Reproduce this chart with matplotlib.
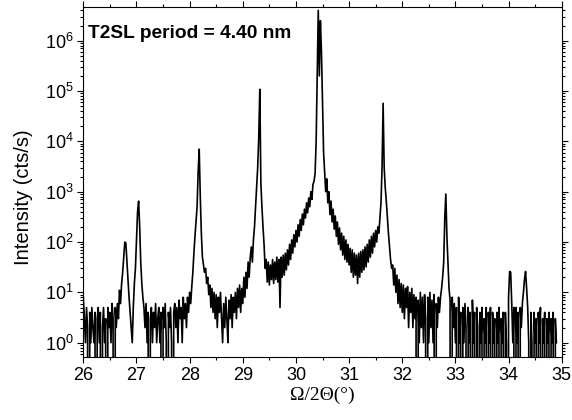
import numpy as np
import matplotlib
matplotlib.use('Agg')
import matplotlib.pyplot as plt
from matplotlib.ticker import LogLocator, MultipleLocator, NullFormatter, FixedLocator

angle_start = 26.0
angle_step = 0.02

seg_26 = [8, 3, 1, 5, 2, 0, 4, 1, 5, 2,
          1, 4, 0, 3, 5, 1, 4, 0, 2, 5,
          1, 3, 0, 5, 2, 4, 1, 6, 3, 0,
          5, 2, 6, 3, 11, 6, 15, 25, 50, 100,
          95, 40, 18, 8, 4, 2, 1, 5, 15, 30]
seg_27 = [110, 400, 650, 200, 40, 15, 8, 5, 2, 6,
          1, 4, 0, 3, 5, 1, 4, 2, 6, 1,
          3, 5, 1, 4, 0, 5, 2, 6, 1, 0,
          4, 2, 5, 1, 0, 4, 6, 2, 5, 1,
          7, 3, 5, 1, 8, 3, 6, 2, 8, 4]
seg_28 = [10, 6, 13, 25, 60, 130, 250, 500, 2500, 7000,
          800, 150, 50, 35, 25, 30, 15, 20, 9, 14,
          5, 12, 4, 10, 3, 9, 2, 8, 4, 10,
          3, 1, 6, 2, 8, 3, 1, 7, 3, 9,
          2, 8, 4, 10, 3, 12, 5, 14, 4, 12]
seg_29 = [6, 20, 8, 25, 12, 40, 20, 50, 80, 40,
          110, 200, 500, 1200, 3000, 12000, 108000, 1500, 500, 200,
          90, 30, 45, 16, 40, 14, 35, 18, 45, 15,
          40, 18, 50, 16, 45, 5, 50, 20, 55, 22,
          60, 28, 70, 35, 90, 45, 110, 60, 140, 80]
seg_30 = [170, 100, 220, 130, 280, 170, 360, 220, 450, 300,
          600, 380, 750, 500, 1000, 700, 1400, 1600, 2300, 10000,
          200000, 4000000, 200000, 2500000, 600000, 60000, 6000, 2500, 1000, 1800,
          600, 1000, 350, 650, 250, 450, 180, 330, 130, 250,
          90, 190, 70, 150, 55, 130, 45, 110, 40, 90]
seg_31 = [35, 75, 25, 70, 20, 60, 22, 55, 15, 60,
          20, 65, 25, 70, 28, 80, 32, 90, 40, 110,
          50, 130, 60, 150, 80, 170, 100, 200, 150, 300,
          600, 3000, 57000, 3000, 1200, 650, 300, 150, 80, 45,
          30, 35, 14, 30, 10, 22, 6, 18, 5, 15]
seg_32 = [4, 14, 3, 12, 5, 13, 2, 10, 4, 12,
          2, 9, 3, 8, 0, 7, 1, 10, 2, 8,
          1, 9, 3, 0, 8, 1, 10, 2, 7, 1,
          9, 0, 6, 2, 8, 4, 8, 12, 20, 40,
          300, 900, 130, 40, 12, 7, 0, 8, 2, 6]
seg_33 = [1, 5, 0, 8, 1, 4, 0, 5, 1, 6,
          2, 0, 5, 1, 4, 0, 7, 1, 4, 0,
          5, 2, 0, 4, 1, 5, 0, 3, 1, 5,
          0, 4, 1, 5, 0, 4, 1, 3, 0, 4,
          1, 5, 0, 3, 1, 4, 0, 4, 1, 0]
seg_34 = [8, 26, 25, 6, 1, 5, 0, 5, 1, 4,
          0, 5, 2, 6, 10, 18, 26, 12, 5, 1,
          0, 4, 1, 0, 4, 1, 3, 0, 4, 1,
          5, 0, 3, 1, 4, 0, 3, 1, 4, 0,
          3, 1, 4, 0, 3, 1]

x_ticks = [26, 27, 28, 29, 30, 31, 32, 33, 34, 35]
y_ticks = [1e0, 1e1, 1e2, 1e3, 1e4, 1e5, 1e6]
annotation = "T2SL period = 4.40 nm"

intensity = np.array(seg_26 + seg_27 + seg_28 + seg_29 + seg_30 +
                     seg_31 + seg_32 + seg_33 + seg_34, dtype=float)
two_theta = angle_start + angle_step * np.arange(intensity.size)

# ---- figure ----
plt.rcParams['font.family'] = ['Liberation Sans', 'DejaVu Sans']
plt.rcParams['mathtext.default'] = 'regular'

fig = plt.figure(figsize=(5.72, 4.20), dpi=100)
ax = fig.add_axes([0.1457, 0.150, 0.8363, 0.8326])

ax.plot(two_theta, intensity, color='black', lw=1.2)
ax.set_yscale('log', nonpositive='clip')
ax.set_xlim(26, 35)
ax.set_ylim(0.52, 4.6e6)

ax.set_xticks(x_ticks)
ax.set_xticklabels([str(t) for t in x_ticks])
ax.xaxis.set_minor_locator(MultipleLocator(0.5))
ax.yaxis.set_major_locator(FixedLocator(y_ticks))
ax.set_yticklabels([r'$10^{%d}$' % int(round(np.log10(v))) for v in y_ticks])
ax.yaxis.set_minor_locator(LogLocator(base=10, subs=np.arange(2, 10), numticks=50))
ax.yaxis.set_minor_formatter(NullFormatter())

ax.tick_params(which='both', direction='out', top=True, right=True,
               labeltop=False, labelright=False, width=0.8)
ax.tick_params(which='major', length=4.5, labelsize=13, pad=2.5)
ax.tick_params(which='minor', length=2.5)
for s in ax.spines.values():
    s.set_linewidth(0.8)

ax.set_ylabel("Intensity (cts/s)", fontsize=14.5)
ax.yaxis.set_label_coords(-0.105, 0.4575)
ax.set_xlabel("Ω/2Θ(°)", fontsize=14, family=['Liberation Serif', 'DejaVu Serif'], labelpad=2)

ax.text(0.010, 0.913, annotation, transform=ax.transAxes, fontsize=13.8,
        fontweight='bold', ha='left', va='baseline')

fig.savefig('out.png', dpi=100)
